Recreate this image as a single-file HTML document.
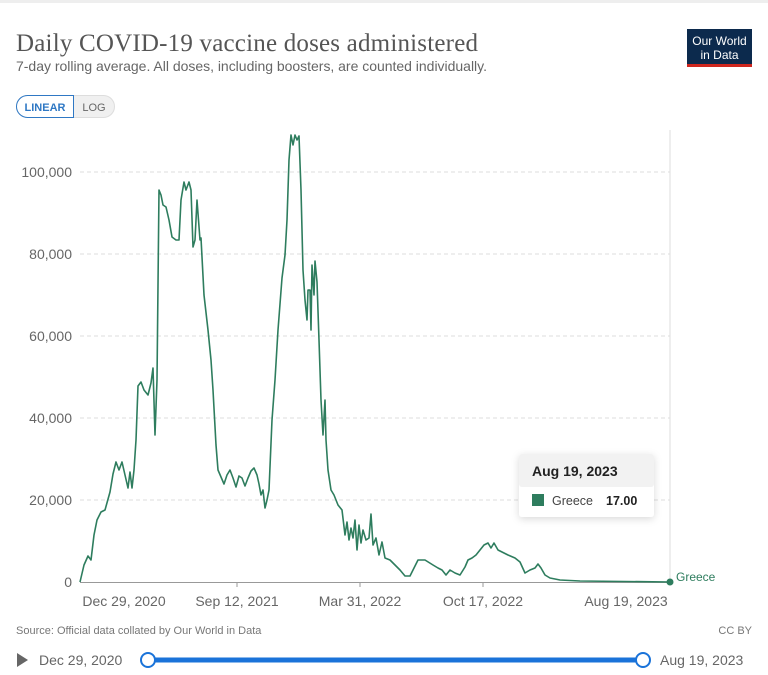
<!DOCTYPE html>
<html><head><meta charset="utf-8"><style>
body{margin:0;width:768px;height:675px;background:#fff;overflow:hidden;font-family:"Liberation Sans",sans-serif}
</style></head><body>
<svg width="768" height="675" xmlns="http://www.w3.org/2000/svg" style="position:absolute;left:0;top:0">
<rect x="0" y="0" width="768" height="3" fill="#eee"/>
<text x="16" y="51" font-family="Liberation Serif,serif" font-size="25" fill="#555" textLength="462">Daily COVID-19 vaccine doses administered</text>
<text x="16" y="71" font-size="14" fill="#666" textLength="471">7-day rolling average. All doses, including boosters, are counted individually.</text>
<rect x="687" y="29" width="65" height="37" fill="#0c2a4d"/>
<rect x="687" y="64" width="65" height="3" fill="#ce261e"/>
<text x="719.5" y="45" font-size="12" fill="#fff" text-anchor="middle">Our World</text>
<text x="719.5" y="59" font-size="12" fill="#fff" text-anchor="middle">in Data</text>
<rect x="16.5" y="95.5" width="98" height="22" rx="11" fill="#f0f0f0" stroke="#ddd"/>
<path d="M27.5 95.5 H73.5 V117.5 H27.5 A11 11 0 0 1 27.5 95.5Z" fill="#fff" stroke="#2f78c4"/>
<text x="45" y="111" font-size="11" fill="#2f78c4" font-weight="bold" text-anchor="middle">LINEAR</text>
<text x="94" y="111" font-size="11" fill="#666" text-anchor="middle">LOG</text>
<g stroke="#ddd" stroke-dasharray="4,3" stroke-width="1">
<line x1="80" y1="172" x2="670" y2="172"/><line x1="80" y1="254" x2="670" y2="254"/>
<line x1="80" y1="336" x2="670" y2="336"/><line x1="80" y1="418" x2="670" y2="418"/>
<line x1="80" y1="500" x2="670" y2="500"/>
</g>
<line x1="670" y1="130" x2="670" y2="582" stroke="#ddd"/>
<line x1="80" y1="582.5" x2="670" y2="582.5" stroke="#999"/>
<g font-size="14" fill="#666" text-anchor="end">
<text x="72" y="177">100,000</text><text x="72" y="259">80,000</text><text x="72" y="341">60,000</text>
<text x="72" y="423">40,000</text><text x="72" y="505">20,000</text><text x="72" y="587">0</text>
</g>
<g stroke="#999"><line x1="237" y1="582" x2="237" y2="587"/><line x1="360" y1="582" x2="360" y2="587"/><line x1="483" y1="582" x2="483" y2="587"/></g>
<g font-size="14" fill="#666" text-anchor="middle">
<text x="124" y="606">Dec 29, 2020</text><text x="237" y="606">Sep 12, 2021</text><text x="360" y="606">Mar 31, 2022</text>
<text x="483" y="606">Oct 17, 2022</text><text x="626" y="606">Aug 19, 2023</text>
</g>
<polyline fill="none" stroke="#2e7d5e" stroke-width="1.6" stroke-linejoin="round" points="80,582 84,565 88,556 91,560 94,535 97,520 101,512 105,510 110,492 113,474 116,462 119,470 122,462 125,475 128,488 130,472 132,488 134,470 136,440 138,386 141,382 144,390 148,395 151,383 153,368 155,435 157,380 159,190 161,195 163,205 166,207 169,220 172,237 176,240 179,240 181,200 184,182 186,190 189,182 191,190 193,247 195,240 197,200 200,240 201,238 204,295 208,330 211,360 213,390 216,445 218,470 221,477 224,484 227,475 230,470 233,478 236,487 239,476 242,478 245,486 248,478 251,471 254,468 257,475 259,484 261,495 263,490 265,508 267,500 269,490 272,420 275,380 278,330 282,278 285,255 287,220 289,160 291,135 293,145 295,135 297,140 299,136 301,190 303,270 305,300 307,320 308,290 310,290 311,330 312,265 314,295 315,261 317,282 319,340 321,400 323,435 325,400 326,440 328,470 331,490 334,495 338,505 342,510 345,535 347,522 349,540 351,528 353,538 355,520 357,550 359,525 361,543 363,530 366,540 369,538 371,514 373,545 376,538 379,555 382,542 385,558 390,560 395,565 400,570 405,576 410,576 414,568 418,560 425,560 433,565 438,568 442,570 446,575 450,570 455,573 460,575 465,567 468,560 472,558 476,555 480,550 484,545 488,543 491,548 494,543 498,550 502,552 508,555 515,558 520,562 525,573 530,570 535,568 538,564 541,568 545,575 550,578 560,580 580,581 670,582"/>
<circle cx="670" cy="582" r="3.5" fill="#2e7d5e"/>
<text x="676" y="581" font-size="12" fill="#2e7d5e">Greece</text>
<defs><filter id="sh" x="-20%" y="-30%" width="140%" height="160%"><feDropShadow dx="0" dy="2" stdDeviation="4" flood-opacity="0.15"/></filter></defs>
<rect x="519" y="454" width="135" height="63" rx="3" fill="#fff" filter="url(#sh)"/>
<rect x="519" y="454" width="135" height="33" rx="3" fill="#f2f2f2"/>
<text x="532" y="476" font-size="14" font-weight="bold" fill="#222">Aug 19, 2023</text>
<rect x="532" y="494" width="12" height="12" fill="#2e7d5e"/>
<text x="552" y="505" font-size="12.5" fill="#444">Greece</text>
<text x="606" y="505" font-size="12.5" font-weight="bold" fill="#222">17.00</text>
<text x="16" y="634" font-size="11" fill="#777">Source: Official data collated by Our World in Data</text>
<text x="752" y="634" font-size="11" fill="#777" text-anchor="end">CC BY</text>
<path d="M17 653 L28 660 L17 667Z" fill="#666"/>
<text x="39" y="665" font-size="14" fill="#666">Dec 29, 2020</text>
<line x1="148" y1="660" x2="643" y2="660" stroke="#1a73d9" stroke-width="5"/>
<circle cx="148" cy="660" r="7" fill="#fff" stroke="#1a73d9" stroke-width="2"/>
<circle cx="643" cy="660" r="7" fill="#fff" stroke="#1a73d9" stroke-width="2"/>
<text x="660" y="665" font-size="14" fill="#666">Aug 19, 2023</text>
</svg>
</body></html>
